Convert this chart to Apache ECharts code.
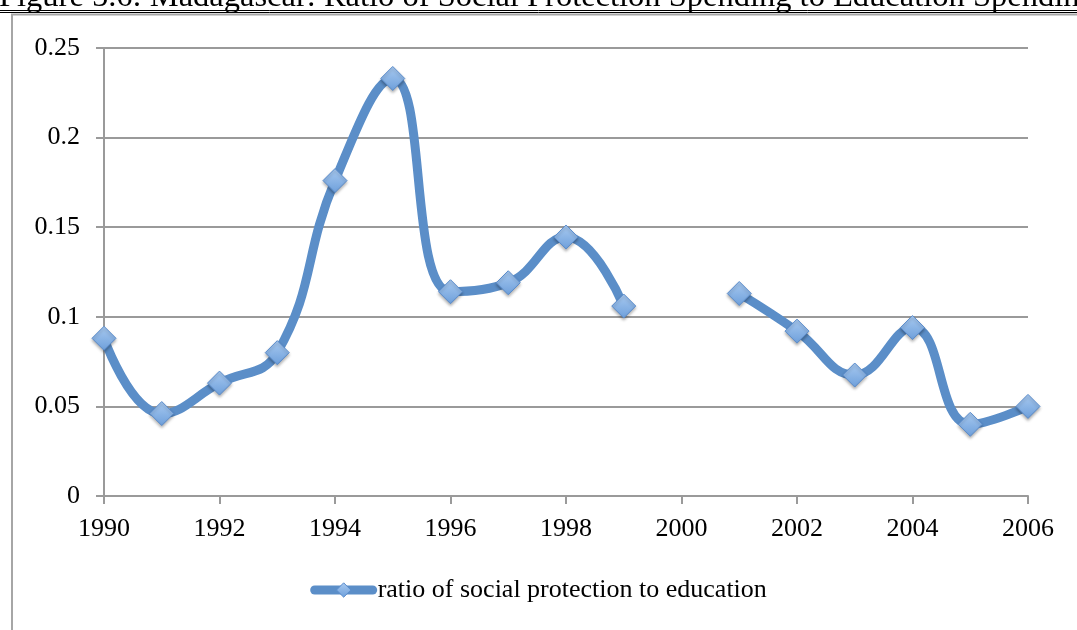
<!DOCTYPE html>
<html>
<head>
<meta charset="utf-8">
<script src="https://cdn.jsdelivr.net/npm/echarts@6/dist/echarts.min.js"></script>
<style>
  html, body { margin: 0; padding: 0; background: #fff; }
  #chart { width: 1077px; height: 630px; }
</style>
</head>
<body>
<div id="chart"></div>
<script>
// Ratio of social protection spending to education spending, Madagascar
const years = [1990, 1991, 1992, 1993, 1994, 1995, 1996, 1997, 1998, 1999, 2000, 2001, 2002, 2003, 2004, 2005, 2006];
const ratio = [0.088, 0.046, 0.063, 0.080, 0.176, 0.233, 0.114, 0.119, 0.1445, 0.106, null, 0.113, 0.092, 0.0675, 0.094, 0.040, 0.050];
const seriesName = 'ratio of social protection to education';
const figureTitle = 'Figure 5.6: Madagascar: Ratio of Social Protection Spending to Education Spending';

const serif = '"Liberation Serif", "DejaVu Serif", serif';
const lineColor = '#5B8EC8';
const gridColor = '#9a9a9a';

const points = years.map((y, i) => [y, ratio[i]]);

const chart = echarts.init(document.getElementById('chart'));
chart.setOption({
  animation: false,
  backgroundColor: '#fff',
  graphic: [
    { type: 'text', left: -1, top: -19, style: { text: figureTitle, font: '32.5px ' + serif, fill: '#000' } },
    { type: 'line', shape: { x1: 0, y1: 10.5, x2: 1077, y2: 10.5 }, style: { stroke: '#000', lineWidth: 1 } },
    { type: 'line', shape: { x1: 0, y1: 12.5, x2: 1077, y2: 12.5 }, style: { stroke: '#000', lineWidth: 1 } },
    { type: 'rect', shape: { x: 12, y: 14.5, width: 1200, height: 700 }, style: { fill: 'none', stroke: '#a6a6a6', lineWidth: 2 } }
  ],
  grid: { left: 104, right: 49, top: 48, bottom: 134, containLabel: false },
  xAxis: {
    type: 'value', min: 1990, max: 2006, interval: 2,
    axisLine: { show: true, lineStyle: { color: gridColor, width: 2 } },
    axisTick: { show: true, length: 8, lineStyle: { color: gridColor, width: 2 } },
    splitLine: { show: false },
    axisLabel: { color: '#000', fontSize: 26, fontFamily: serif, margin: 20, formatter: v => String(v) }
  },
  yAxis: {
    type: 'value', min: 0, max: 0.25, interval: 0.05,
    axisLine: { show: true, lineStyle: { color: gridColor, width: 2 } },
    axisTick: { show: true, length: 8, lineStyle: { color: gridColor, width: 2 } },
    splitLine: { show: true, lineStyle: { color: gridColor, width: 2 } },
    axisLabel: { color: '#000', fontSize: 26, fontFamily: serif, margin: 24, formatter: v => String(+v.toFixed(2)) }
  },
  legend: {
    bottom: 22, left: 'center',
    itemWidth: 58, itemHeight: 18, itemGap: 4,
    lineStyle: { width: 9, cap: 'round' },
    itemStyle: { borderWidth: 1 },
    textStyle: { color: '#000', fontSize: 26, fontFamily: serif },
    data: [seriesName]
  },
  series: [{
    name: seriesName,
    type: 'line',
    data: points,
    smooth: 0.45,
    connectNulls: false,
    lineStyle: { color: lineColor, width: 9, cap: 'round' },
    symbol: 'diamond',
    symbolSize: 24,
    itemStyle: {
      color: new echarts.graphic.LinearGradient(0, 0, 0, 1, [
        { offset: 0, color: '#a9caf0' },
        { offset: 1, color: '#6d9fdb' }
      ]),
      borderColor: '#5a8ccc',
      borderWidth: 1,
      shadowColor: 'rgba(0,0,0,0.3)', shadowBlur: 3, shadowOffsetY: 2
    },
    z: 3
  }]
});
</script>
</body>
</html>
